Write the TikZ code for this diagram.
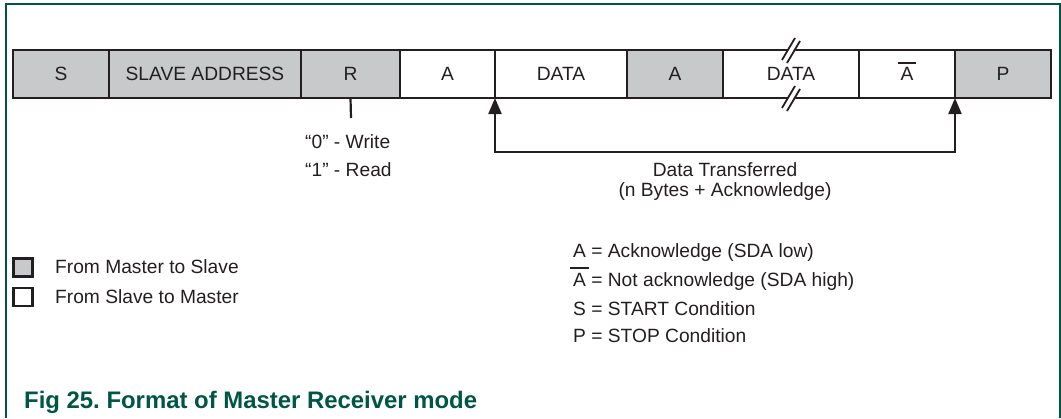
\documentclass[tikz,border=0pt]{standalone}
\usepackage{fontspec}
\setmainfont{Liberation Sans}
\usetikzlibrary{arrows.meta}
\definecolor{ink}{RGB}{35,31,32}
\definecolor{cellgray}{RGB}{200,201,203}
\definecolor{nxpgreen}{RGB}{0,86,68}
\newcommand{\nack}{\leavevmode\rlap{\kern-0.15em\rule[0.87em]{0.95em}{0.1em}}A}
\begin{document}
\begin{tikzpicture}[x=1pt,y=-1pt,
  cell/.style={draw=ink, line width=2.4pt, minimum height=48pt, inner sep=0pt, outer sep=0pt,
    text height=13.6pt, text depth=0pt, font=\fontsize{19.2}{23}\selectfont, text=ink},
  gcell/.style={cell, fill=cellgray},
  wcell/.style={cell, fill=white},
  lbl/.style={font=\fontsize{19.2}{23}\selectfont, text=ink, inner sep=0pt, anchor=base west},
  breakmark/.style={draw=ink, line width=1.8pt},
  legbox/.style={draw=ink, line width=2.4pt, minimum width=19pt, minimum height=18pt, inner sep=0pt},
  conn/.style={draw=ink, line width=2.2pt}
]
\useasboundingbox (0,0) rectangle (1061,418);
% frame
\draw[nxpgreen, line width=1.5pt] (6,418) -- (6,4) -- (1060,4) -- (1060,418);

% row of cells
\node[gcell, minimum width=96pt]  (s)  at (61,74)    {S};
\node[gcell, minimum width=192pt] (sa) at (205,74)   {SLAVE ADDRESS};
\node[gcell, minimum width=99pt]  (r)  at (350.5,74) {R};
\node[wcell, minimum width=95pt]  (a1) at (447.5,74) {A};
\node[wcell, minimum width=132pt] (d1) at (561,74)   {DATA};
\node[gcell, minimum width=96pt]  (a2) at (675,74)   {A};
\node[wcell, minimum width=136pt] (d2) at (791,74)   {DATA};
\node[wcell, minimum width=96pt]  (na) at (907,74)   {\nack};
\node[gcell, minimum width=96pt]  (p)  at (1003,74)  {P};
\draw[ink, line width=2.8pt] (s.north west) rectangle (p.south east);

% break marks on the second DATA field
\fill[white] (782,60) -- (795,38) -- (800,41) -- (787,63) -- cycle;
\draw[breakmark] (782,60) -- (795,38) (787,63) -- (800,41);
\fill[white] (782,108) -- (795,86) -- (800,89) -- (787,111) -- cycle;
\draw[breakmark] (782,108) -- (795,86) (787,111) -- (800,89);

% R/W tick
\coordinate (rt) at (351,118);
\draw[conn] (r.south) -- (rt);
\node[lbl] (w0) at (305,148.8) {“0” - Write};
\node[lbl] (r1) at (305,176.8) {“1” - Read};

% data transferred bracket
\coordinate (bl) at (495,152);
\coordinate (br) at (955,152);
\draw[conn, {Triangle[length=16pt,width=13pt]}-{Triangle[length=16pt,width=13pt]}] (d1.south west) -- (bl) -- (br) -- (p.south west);
\node[lbl, anchor=base] (dt) at (725,176.8) {Data Transferred};
\node[lbl, anchor=base] (nb) at (725,196.8) {(n Bytes + Acknowledge)};

% legend
\node[legbox, fill=cellgray] (lg1) at (23,267.5) {};
\node[legbox, fill=white]    (lg2) at (23,297) {};
\node[lbl] (lt1) at (55,273.8) {From Master to Slave};
\node[lbl] (lt2) at (55,303.8) {From Slave to Master};

% key
\node[lbl] (k1) at (573,257) {A = Acknowledge (SDA low)};
\node[lbl] (k2) at (573,286) {\nack\ = Not acknowledge (SDA high)};
\node[lbl] (k3) at (573,315) {S = START Condition};
\node[lbl] (k4) at (573,342) {P = STOP Condition};

% caption
\node[anchor=base west, inner sep=0pt, font=\fontsize{23.9}{28}\selectfont\bfseries, text=nxpgreen] (cap) at (24,408.4) {Fig 25.\ Format of Master Receiver mode};
\end{tikzpicture}
\end{document}
